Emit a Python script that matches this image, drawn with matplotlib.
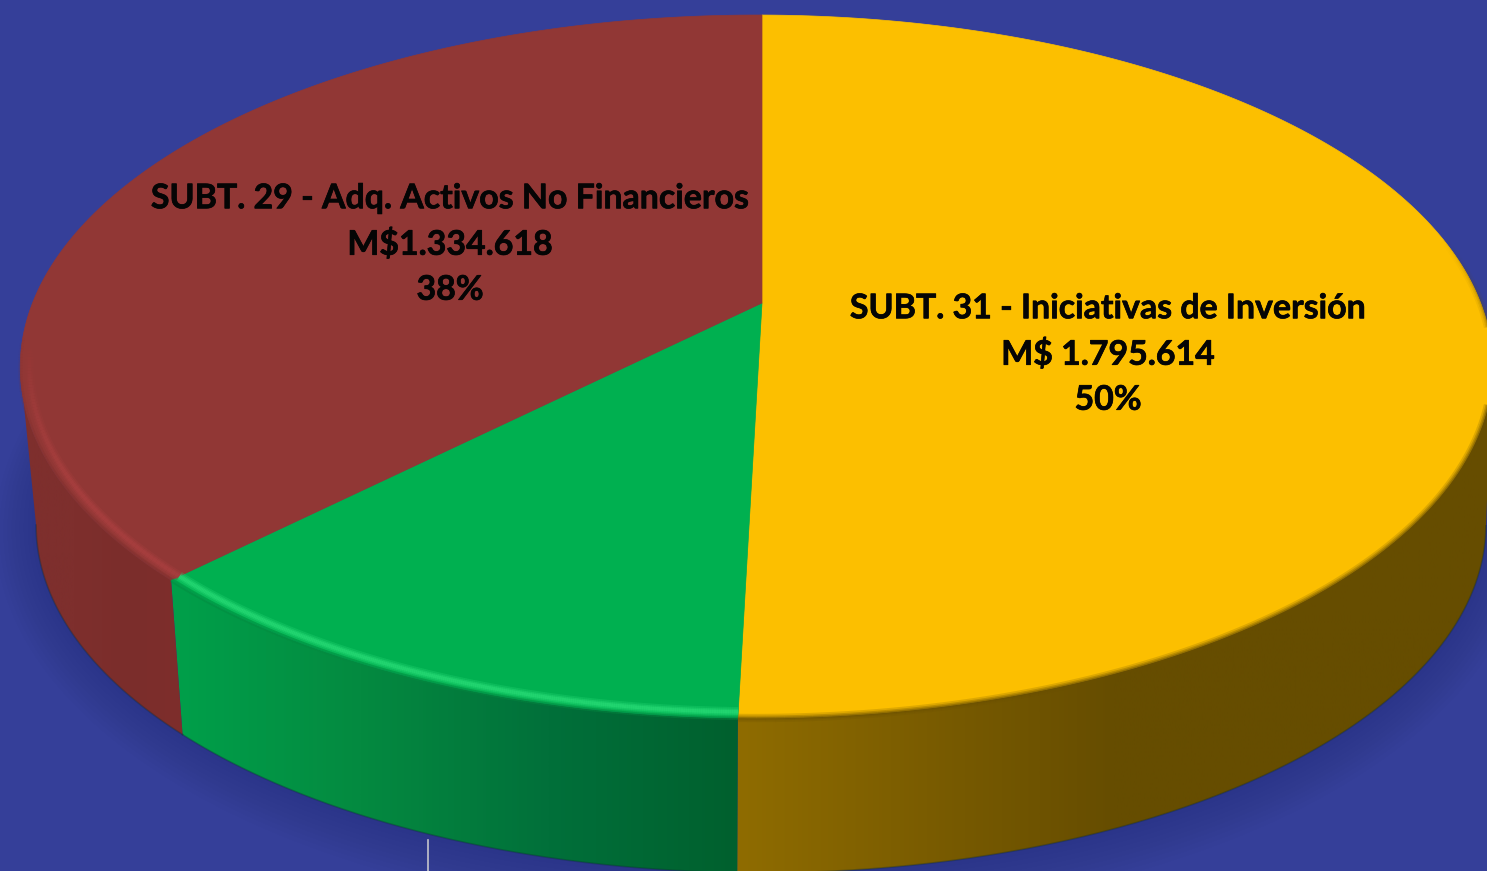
import matplotlib
matplotlib.use('Agg')
import matplotlib.pyplot as plt
import matplotlib.patheffects as pe
from matplotlib.collections import LineCollection
from matplotlib.colors import LinearSegmentedColormap, to_rgb
from matplotlib.patches import Polygon
import numpy as np

# Values (the green one has no label)
categories = ['SUBT. 31 - Iniciativas de Inversión', 'Otros',
              'SUBT. 29 - Adq. Activos No Financieros']
values = [1795614, 430000, 1334618]
amounts = ['M$ 1.795.614', None, 'M$1.334.618']
percents = ['50%', None, '38%']

top_colours = ['#fcbf00', '#00b050', '#913735']
rim_colours = ['#6a5000', '#2ee27c', '#ad4141']
wall_colours = [['#8f6c00', '#7a5c00', '#664d00', '#664d00'],
                ['#00a04a', '#048a40', '#01703a', '#00602e'],
                ['#7e2f2d', '#7e2f2d', '#7b2d2b', '#7e2e2c']]
bg = '#353f99'

W, H = 1487, 871
label_pos = [(1108, 354), None, (450, 244)]


# circle to screen, with a bit of perspective
def top_xy(t, r=1.0):
    u, v = r * np.sin(t), -r * np.cos(t)
    d = 1 - 0.1807 * v + 0.0075 * u
    return 762 + 724 * u / d, 303 + 340 * v / d


def low_xy(t, grow=0.0):
    u, v = np.sin(t), -np.cos(t)
    d = 1 - 0.1807 * v
    return 761 + (713 + grow) * u / d, 462 + (336.6 + grow) * v / d


fig = plt.figure(figsize=(W / 100, H / 100), dpi=100, facecolor=bg)
ax = fig.add_axes([0, 0, 1, 1])
ax.set_axis_off()

# soft shadow under the disc
tt = np.linspace(0, 2 * np.pi, 400)
for g in np.arange(40, 0, -4):
    x, y = low_xy(tt, g)
    ax.add_patch(Polygon(np.c_[x, y], fc='#1c2470', ec='none', alpha=0.03, zorder=1))

edges = np.r_[0, np.cumsum(values)] / np.sum(values) * 2 * np.pi

# side walls, gradient clipped to the wall shape
for i in range(len(values)):
    t = np.linspace(edges[i], edges[i + 1], 400)
    t = t[-np.cos(t) > 0.18]
    xa, ya = top_xy(t)
    xb, yb = low_xy(t)
    pts = np.r_[np.c_[xa, ya], np.c_[xb, yb][::-1]]
    patch = Polygon(pts, fc='none', ec='none', transform=ax.transData)
    ax.add_patch(patch)
    cmap = LinearSegmentedColormap.from_list('w%d' % i, wall_colours[i])
    x0, x1 = pts[:, 0].min(), pts[:, 0].max()
    if i == 0:
        grad = np.clip((np.linspace(0, 1, 512) / 0.75), 0, 1)[None, :]
    else:
        grad = np.linspace(0, 1, 512)[None, :]
    im = ax.imshow(grad, extent=(x0, x1, pts[:, 1].max(), pts[:, 1].min()),
                   cmap=cmap, vmin=0, vmax=1, aspect='auto', zorder=2)
    im.set_clip_path(patch)
    # thin dark line at the foot of the wall
    ax.plot(xb, yb, color='#0b2a30', alpha=0.3, lw=1.2, zorder=2.5)

# top faces
for i in range(len(values)):
    t = np.linspace(edges[i], edges[i + 1], 300)
    x, y = top_xy(t)
    pts = np.r_[[[762, 303]], np.c_[x, y]]
    ax.add_patch(Polygon(pts, fc=top_colours[i], ec=top_colours[i], lw=0.5, zorder=3))

# bevel along the front rim
for i in range(len(values)):
    t = np.linspace(edges[i], edges[i + 1], 300)
    v = -np.cos(t[:-1])
    if i == 0:
        layers = [(1.0, rim_colours[0], 6, 0.2), (1.0, rim_colours[0], 3.5, 0.3),
                  (1.0, rim_colours[0], 1.5, 0.4)]
        fade = np.clip((v + 0.2) / 0.5, 0, 1)
    else:
        wall = wall_colours[i][1]
        layers = [(1.0, wall, 3, 0.45), (0.988, rim_colours[i], 7, 0.25),
                  (0.988, rim_colours[i], 4.5, 0.35), (0.988, rim_colours[i], 2.5, 0.45)]
        fade = np.clip((v - 0.1) / 0.4, 0, 1)
    for r, c, lw, al in layers:
        x, y = top_xy(t, r)
        p = np.c_[x, y]
        segs = np.stack([p[:-1], p[1:]], axis=1)
        cols = np.c_[np.tile(to_rgb(c), (len(v), 1)), fade * al]
        ax.add_collection(LineCollection(segs, colors=cols, linewidths=lw,
                                         capstyle='butt', zorder=4))

# labels
for i, name in enumerate(categories):
    if label_pos[i] is None:
        continue
    txt = '%s\n%s\n%s' % (name, amounts[i], percents[i])
    t = ax.text(label_pos[i][0], label_pos[i][1], txt, ha='center', va='center',
                fontsize=24.4, fontweight='bold', family='Lato', color='#050505',
                linespacing=1.5, zorder=6)
    t.set_path_effects([pe.withStroke(linewidth=0.5, foreground='#050505')])

# stray line at the bottom of the slide
ax.plot([428, 428], [840, H], color='#c4c4cc', lw=1.2, zorder=5)

ax.set_xlim(0, W)
ax.set_ylim(H, 0)
fig.savefig('out.png', dpi=100, facecolor=bg)
